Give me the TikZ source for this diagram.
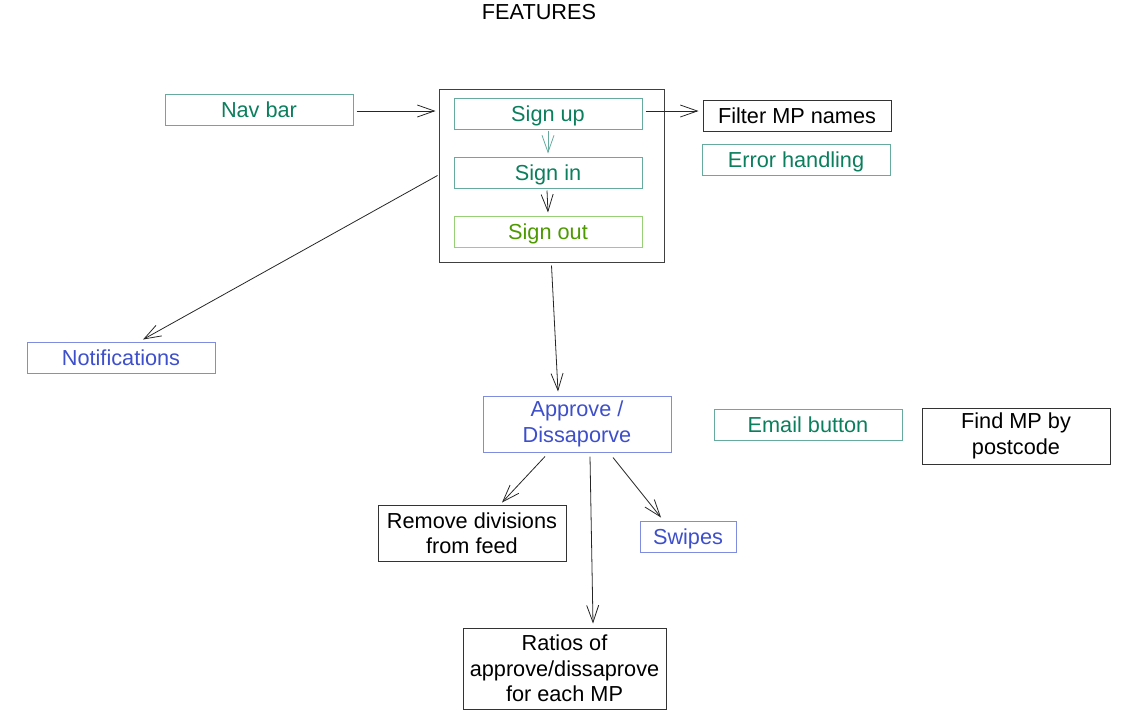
\documentclass[tikz,border=0pt]{standalone}
\usepackage{fontspec}
\setmainfont{Liberation Sans}
\usetikzlibrary{arrows.meta}
\definecolor{grntext}{HTML}{0B7E5C}
\definecolor{grnline}{HTML}{67AB9F}
\definecolor{limetext}{HTML}{4D9900}
\definecolor{limeline}{HTML}{97D077}
\definecolor{bluetext}{HTML}{3D4FCB}
\definecolor{blueline}{HTML}{7F8DE0}
\tikzset{>={Straight Barb[length=17pt,width=12pt]},
  box/.style={draw=#1, line width=1pt, inner sep=0pt, minimum width=188pt,
    minimum height=31pt, align=center, text height=17pt, text depth=0.6pt,
    font=\fontsize{21.7}{25.5}\selectfont},
  box/.default={black!80},
  tall/.style={text height=, text depth=},
  grnbox/.style={box=grnline, text=grntext},
  bluebox/.style={box=blueline, text=bluetext},
  link/.style={->, line width=0.8pt, black!85}}

\begin{document}
\begin{tikzpicture}[x=1pt,y=-1pt]
    \useasboundingbox (0,0) rectangle (1129,724);
    \node[font=\fontsize{21.7}{25.5}\selectfont] (title) at (539,12) {FEATURES};
    % login group
    \node[draw=black!75, line width=1pt, minimum width=225pt, minimum height=173pt] (auth) at (551.5,175.5) {};
    \node[grnbox] (signup) at (548,113.5) {Sign up};
    \node[grnbox] (signin) at (548,172.5) {Sign in};
    \node[box=limeline, text=limetext] (signout) at (548,231.5) {Sign out};
    \node[grnbox] (nav) at (259,109.5) {Nav bar};
    \node[box] (filter) at (797,115.5) {Filter MP names};
    \node[grnbox] (errors) at (796,159.5) {Error handling};
    \node[bluebox] (notif) at (121,357.5) {Notifications};
    % feed
    \node[bluebox, tall, minimum height=56pt] (vote) at (577,424) {Approve /\\Dissaporve};
    \node[grnbox] (email) at (808,424.5) {Email button};
    \node[box, tall, minimum height=56pt] (postcode) at (1016,436) {Find MP by\\postcode};
    \node[box, tall, minimum height=56pt] (divisions) at (472,533) {Remove divisions\\from feed};
    \node[bluebox, minimum width=96pt] (swipes) at (688,536.5) {Swipes};
    \node[box, tall, minimum width=203pt, minimum height=81pt] (ratios) at (564.5,668.5) {Ratios of\\approve/dissaprove\\for each MP};
    % arrows
    \draw[link] ([xshift=3pt,yshift=-1.5pt]nav.east) -- ([xshift=-3pt,yshift=-1.5pt]auth.west|-nav.east);
    \draw[link] ([xshift=3pt,yshift=2.5pt]signup.east) -- ([xshift=-4pt,yshift=4.5pt]filter.west);
    \draw[link, grnline] ([yshift=-1pt]signup.south) -- ([yshift=3pt]signin.north);
    \draw[link] ([xshift=-1pt,yshift=-2pt]signin.south) -- ([yshift=3pt]signout.north);
    \draw[link] ([xshift=-1pt]auth.west) -- ([xshift=22pt,yshift=2pt]notif.north);
    \draw[link] ([yshift=-3pt]auth.south) -- ([xshift=-19pt,yshift=4pt]vote.north);
    \draw[link] ([xshift=-32pt,yshift=-4pt]vote.south) -- ([xshift=30pt,yshift=2pt]divisions.north);
    \draw[link] ([xshift=13pt,yshift=-4pt]vote.south) -- ([xshift=28.5pt,yshift=4pt]ratios.north);
    \draw[link] ([xshift=36pt,yshift=-5pt]vote.south) -- ([xshift=-27pt,yshift=3pt]swipes.north);
  \end{tikzpicture}
\end{document}
